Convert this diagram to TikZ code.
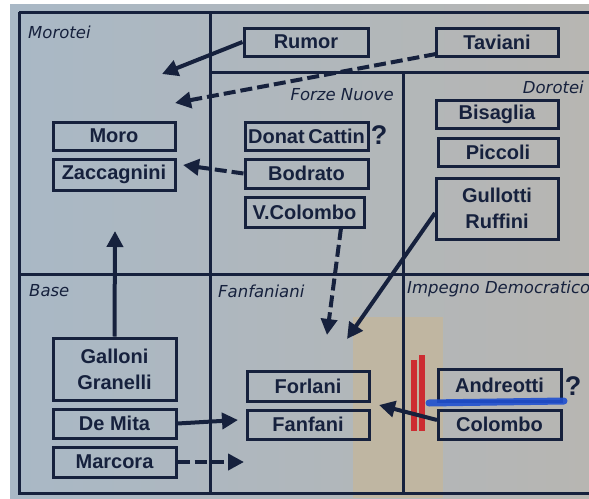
\documentclass[tikz,border=0pt]{standalone}
\usepackage{fontspec}
\setmainfont{Liberation Sans}
\newfontfamily\grpfont{DejaVu Sans}
\usetikzlibrary{arrows.meta}
\definecolor{ink}{HTML}{16213D}
\definecolor{paperL}{HTML}{A9B8C6}
\definecolor{paperR}{HTML}{B7B6B2}
\definecolor{tape}{HTML}{CDB68C}
\definecolor{redpen}{HTML}{D0141E}
\definecolor{bluepen}{HTML}{1F4FD0}
\tikzset{
  leader/.style={draw=ink, line width=3pt, text=ink, inner sep=0pt,
    font=\fontsize{20}{22}\selectfont\bfseries, align=center},
  grp/.style={text=ink, inner sep=0pt, font=\grpfont\fontsize{16.5}{18}\selectfont\itshape},
  gridline/.style={draw=ink, line width=3pt},
  link/.style={draw=ink, line width=4pt,
    -{Triangle[length=16pt,width=16pt]}},
  dlink/.style={link, dash pattern=on 12pt off 5pt},
  qmark/.style={text=ink, inner sep=0pt, font=\fontsize{27}{28}\selectfont\bfseries}
}
\begin{document}
\begin{tikzpicture}[x=1pt,y=-1pt]
\useasboundingbox (0,0) rectangle (589,498);
% paper
\shade[left color=paperL, right color=paperR] (10,4) rectangle (589,498);
\fill[tape, opacity=0.5] (353,317) rectangle (443,498);

% grid of the factions
\draw[gridline] (19,12) -- (589,12);
\draw[gridline] (19,12) -- (19,493) -- (589,493);
\draw[gridline] (210,12) -- (210,493);
\draw[gridline] (210,72) -- (589,72);
\draw[gridline] (403,72) -- (403,493);
\draw[gridline] (19,274) -- (589,274);

% faction names
\node[grp, anchor=west] (gMor) at (28,32) {Morotei};
\node[grp, anchor=east] (gFN) at (394,95) {Forze Nuove};
\node[grp, anchor=east] (gDor) at (584,87) {Dorotei};
\node[grp, anchor=west] (gBase) at (29,291) {Base};
\node[grp, anchor=west] (gFan) at (218,291) {Fanfaniani};
\node[grp, anchor=west] (gID) at (407,289) {Impegno Democratico};

% leaders
\node[leader, minimum width=124pt, minimum height=28pt] (rumor) at (306,42) {Rumor};
\node[leader, minimum width=122pt, minimum height=28pt] (taviani) at (497,42.5) {Taviani};
\node[leader, minimum width=123pt, minimum height=28pt] (donat) at (306.5,136) {Donat\hspace{3.5pt}Cattin};
\node[leader, minimum width=123pt, minimum height=29pt] (bodrato) at (306.5,173.5) {Bodrato};
\node[leader, minimum width=119pt, minimum height=30pt] (vcol) at (304.5,212) {V.Colombo};
\node[leader, minimum width=122pt, minimum height=28pt] (moro) at (114,136) {Moro};
\node[leader, minimum width=122pt, minimum height=31pt] (zacc) at (114,174.5) {Zaccagnini};
\node[leader, minimum width=122pt, minimum height=28pt] (bisaglia) at (497,114) {Bisaglia};
\node[leader, minimum width=120pt, minimum height=28pt] (piccoli) at (498,152) {Piccoli};
\node[leader, minimum width=122pt, minimum height=61pt] (gullotti) at (497,208.5) {Gullotti\\[4pt]Ruffini};
\node[leader, minimum width=123pt, minimum height=62pt] (galloni) at (114.5,369) {Galloni\\[4pt]Granelli};
\node[leader, minimum width=123pt, minimum height=29pt] (demita) at (114.5,423.5) {De Mita};
\node[leader, minimum width=123pt, minimum height=30pt] (marcora) at (114.5,462) {Marcora};
\node[leader, minimum width=122pt, minimum height=30pt] (forlani) at (308,386) {Forlani};
\node[leader, minimum width=122pt, minimum height=29pt] (fanfani) at (308,424.5) {Fanfani};
\node[leader, minimum width=123pt, minimum height=32pt] (andreotti) at (499.5,385) {Andreotti};
\node[leader, minimum width=123pt, minimum height=29pt] (colombo) at (499.5,424.5) {Colombo};

\node[qmark] (q1) at (379,135) {?};
\node[qmark] (q2) at (573,386) {?};

% pen marks
\draw[redpen, line width=5.5pt, opacity=0.85] (414,360) -- (414,431);
\draw[redpen, line width=6pt, opacity=0.85] (421.5,355) -- (421.5,431);
\draw[bluepen, line width=7pt, line cap=round, opacity=0.9] (429,403) -- (564,401);

% arrow ends
\coordinate (tRumor) at (162,74);
\coordinate (sTav) at (436,54);
\coordinate (tTav) at (175,103);
\coordinate (tBod) at (183,165);
\coordinate (tGal) at (115,231);
\coordinate (sVcol) at (341,228);
\coordinate (tVcol) at (327,335);
\coordinate (sGul) at (435,213);
\coordinate (tGul) at (347,339);
\coordinate (tDem) at (238,420);
\coordinate (tMar) at (244,462);
\coordinate (sCol) at (437,420);
\coordinate (tCol) at (379,405);

% movements
\draw[link] (rumor.west) -- (tRumor);
\draw[dlink] (sTav) -- (tTav);
\draw[dlink] (bodrato.west) -- (tBod);
\draw[link] (galloni.north) -- (tGal);
\draw[dlink] (sVcol) -- (tVcol);
\draw[link] (sGul) -- (tGul);
\draw[link] (demita.east) -- (tDem);
\draw[dlink] (marcora.east) -- (tMar);
\draw[link] (sCol) -- (tCol);
\end{tikzpicture}
\end{document}
